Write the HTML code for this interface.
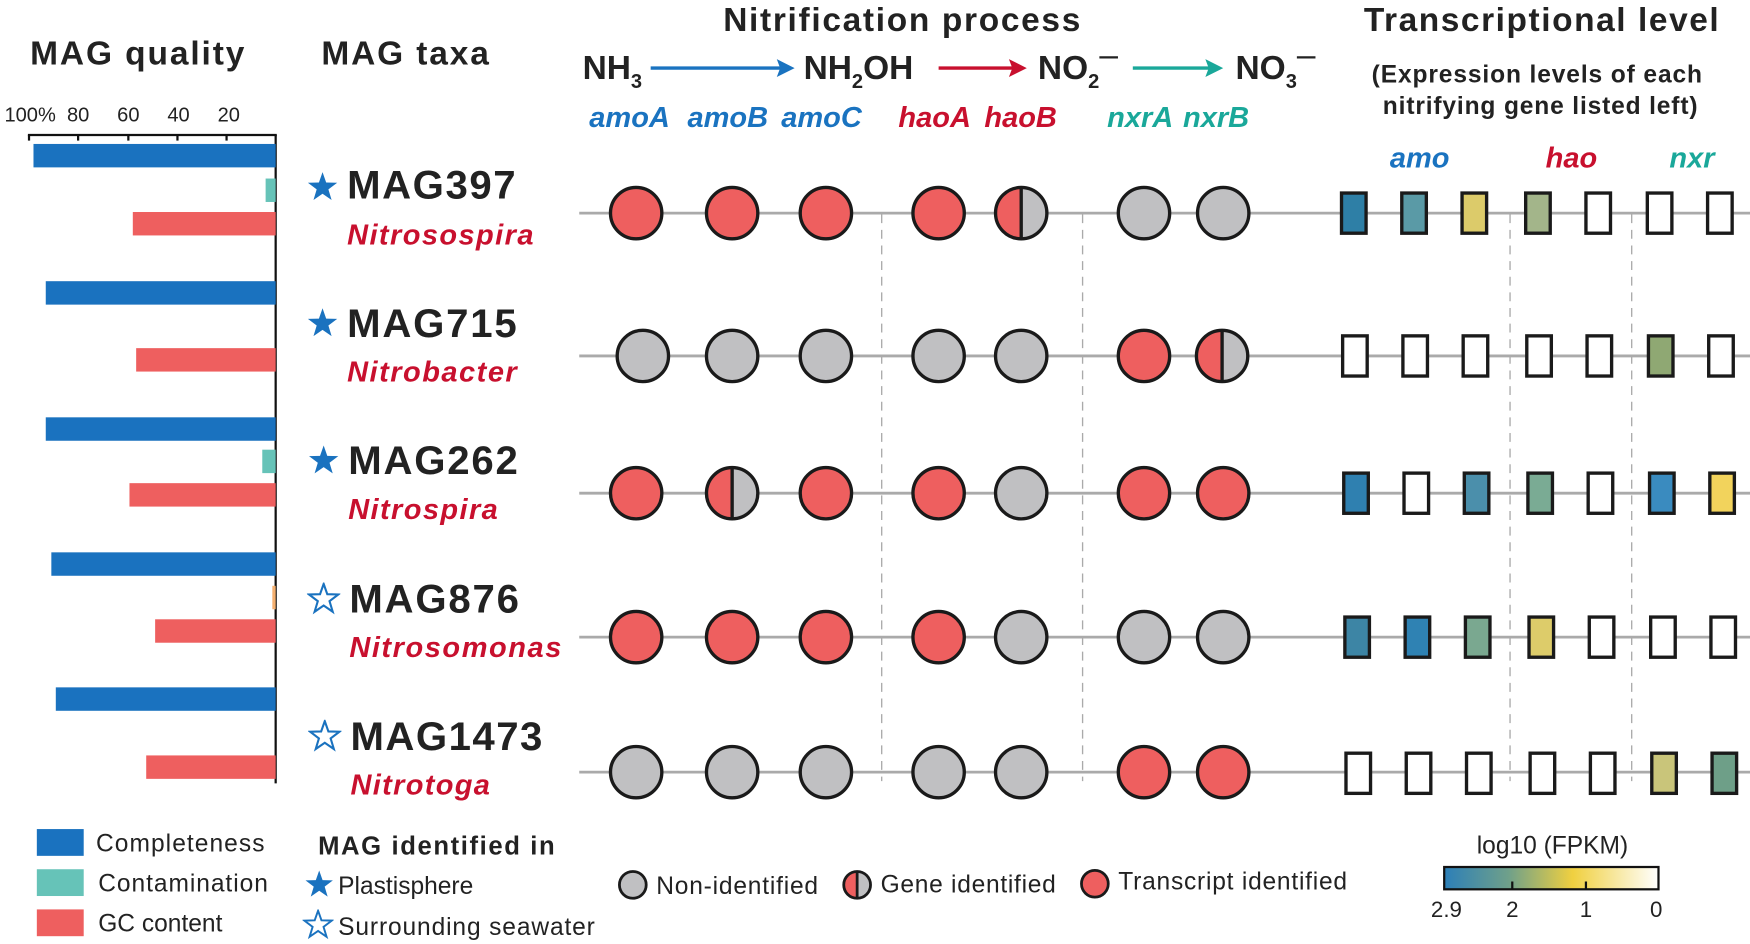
<!DOCTYPE html>
<html><head><meta charset="utf-8"><style>html,body{margin:0;padding:0;background:#fff}svg{display:block}text{font-family:"Liberation Sans",sans-serif}</style></head><body>
<svg width="1750" height="944" viewBox="0 0 1568 846" preserveAspectRatio="none" xmlns="http://www.w3.org/2000/svg">
<defs>
<linearGradient id="cb" x1="0" x2="1"><stop offset="0" stop-color="#2c7fb8"/><stop offset="0.3" stop-color="#6fa08a"/><stop offset="0.6" stop-color="#f0d040"/><stop offset="1" stop-color="#ffffff"/></linearGradient>
<symbol id="star" viewBox="-12 -12 24 24"><path d="M0,-11 L2.6,-3.6 10.5,-3.4 4.2,1.4 6.5,9 0,4.5 -6.5,9 -4.2,1.4 -10.5,-3.4 -2.6,-3.6Z"/></symbol>
</defs>
<g font-weight="bold" fill="#222">
<text x="123" y="58" font-size="30" text-anchor="middle" textLength="192">MAG quality</text>
<text x="363" y="58" font-size="30" text-anchor="middle" textLength="150">MAG taxa</text>
<text x="808" y="28" font-size="30" text-anchor="middle" textLength="320">Nitrification process</text>
<text x="1381" y="28" font-size="30" text-anchor="middle" textLength="318">Transcriptional level</text>
<text x="1377" y="74" font-size="22" text-anchor="middle" textLength="296">(Expression levels of each</text>
<text x="1380" y="102" font-size="22" text-anchor="middle" textLength="282">nitrifying gene listed left)</text>
<text x="522" y="71" font-size="30">NH<tspan font-size="18" dy="8">3</tspan></text>
<text x="720" y="71" font-size="30">NH<tspan font-size="18" dy="8">2</tspan><tspan dy="-8">OH</tspan></text>
<text x="930" y="71" font-size="30">NO<tspan font-size="18" dy="8">2</tspan><tspan dy="-20" font-weight="normal">–</tspan></text>
<text x="1107" y="71" font-size="30">NO<tspan font-size="18" dy="8">3</tspan><tspan dy="-20" font-weight="normal">–</tspan></text>
</g>
<g stroke-width="3">
<line x1="583" y1="61" x2="700" y2="61" stroke="#1a73c0"/><path d="M712,61 L696,53 L699,61 L696,69Z" fill="#1a73c0"/>
<line x1="841" y1="61" x2="908" y2="61" stroke="#c8102e"/><path d="M920,61 L904,53 L907,61 L904,69Z" fill="#c8102e"/>
<line x1="1015" y1="61" x2="1084" y2="61" stroke="#1aa89a"/><path d="M1096,61 L1080,53 L1083,61 L1080,69Z" fill="#1aa89a"/>
</g>
<g font-size="26" font-weight="bold" font-style="italic">
<text x="528" y="114" fill="#1a73c0">amoA</text><text x="616" y="114" fill="#1a73c0">amoB</text><text x="700" y="114" fill="#1a73c0">amoC</text>
<text x="805" y="114" fill="#c8102e">haoA</text><text x="882" y="114" fill="#c8102e">haoB</text>
<text x="992" y="114" fill="#1aa89a">nxrA</text><text x="1060" y="114" fill="#1aa89a">nxrB</text>
<text x="1272" y="150" fill="#1a73c0" text-anchor="middle">amo</text>
<text x="1408" y="150" fill="#c8102e" text-anchor="middle">hao</text>
<text x="1516" y="150" fill="#1aa89a" text-anchor="middle">nxr</text>
</g>
<g font-size="18" fill="#222">
<text x="27" y="109" text-anchor="middle">100%</text><text x="70" y="109" text-anchor="middle">80</text><text x="115" y="109" text-anchor="middle">60</text><text x="160" y="109" text-anchor="middle">40</text><text x="205" y="109" text-anchor="middle">20</text>
</g>
<g stroke="#111" stroke-width="2"><line x1="25" y1="121" x2="248" y2="121"/><line x1="247" y1="121" x2="247" y2="702"/>
<line x1="70" y1="121" x2="70" y2="126"/><line x1="115" y1="121" x2="115" y2="126"/><line x1="159" y1="121" x2="159" y2="126"/><line x1="203" y1="121" x2="203" y2="126"/><line x1="26" y1="121" x2="26" y2="126"/></g>
<g>
<rect x="30" y="129" width="217" height="21" fill="#1a72bf"/><rect x="238" y="160" width="9" height="21" fill="#66c3b8"/><rect x="119" y="190" width="128" height="21" fill="#ee5f5f"/>
<rect x="41" y="252" width="206" height="21" fill="#1a72bf"/><rect x="122" y="312" width="125" height="21" fill="#ee5f5f"/>
<rect x="41" y="374" width="206" height="21" fill="#1a72bf"/><rect x="235" y="403" width="12" height="21" fill="#66c3b8"/><rect x="116" y="433" width="131" height="21" fill="#ee5f5f"/>
<rect x="46" y="495" width="201" height="21" fill="#1a72bf"/><rect x="244" y="525" width="3" height="21" fill="#f5b070"/><rect x="139" y="555" width="108" height="21" fill="#ee5f5f"/>
<rect x="50" y="616" width="197" height="21" fill="#1a72bf"/><rect x="131" y="677" width="116" height="21" fill="#ee5f5f"/>
</g>
<g font-weight="bold">
<use href="#star" x="274" y="153" width="30" height="30" fill="#1a72bf"/>
<text x="311" y="178" font-size="36" fill="#222" textLength="151">MAG397</text><text x="311" y="219" font-size="26" font-style="italic" fill="#c8102e" textLength="167">Nitrosospira</text>
<use href="#star" x="274" y="275" width="30" height="30" fill="#1a72bf"/>
<text x="311" y="302" font-size="36" fill="#222" textLength="152">MAG715</text><text x="311" y="342" font-size="26" font-style="italic" fill="#c8102e" textLength="152">Nitrobacter</text>
<use href="#star" x="275" y="398" width="30" height="30" fill="#1a72bf"/>
<text x="312" y="425" font-size="36" fill="#222" textLength="152">MAG262</text><text x="312" y="465" font-size="26" font-style="italic" fill="#c8102e" textLength="134">Nitrospira</text>
<use href="#star" x="275" y="522" width="30" height="30" fill="#fff" stroke="#1a72bf" stroke-width="1.5"/>
<text x="313" y="549" font-size="36" fill="#222" textLength="152">MAG876</text><text x="313" y="589" font-size="26" font-style="italic" fill="#c8102e" textLength="190">Nitrosomonas</text>
<use href="#star" x="276" y="645" width="30" height="30" fill="#fff" stroke="#1a72bf" stroke-width="1.5"/>
<text x="314" y="672" font-size="36" fill="#222" textLength="172">MAG1473</text><text x="314" y="712" font-size="26" font-style="italic" fill="#c8102e" textLength="125">Nitrotoga</text>
</g>
<g stroke="#aaa" stroke-width="1.2" stroke-dasharray="8,6">
<line x1="790" y1="192" x2="790" y2="700"/><line x1="970" y1="192" x2="970" y2="700"/><line x1="1353" y1="192" x2="1353" y2="700"/><line x1="1462" y1="192" x2="1462" y2="700"/>
</g>
<g stroke="#aaa" stroke-width="2.5">
<line x1="519" y1="191" x2="1568" y2="191"/><line x1="519" y1="319" x2="1568" y2="319"/><line x1="519" y1="442" x2="1568" y2="442"/><line x1="519" y1="571" x2="1568" y2="571"/><line x1="519" y1="692" x2="1568" y2="692"/>
</g>
<g stroke="#1a1a1a" stroke-width="3">
<circle cx="570" cy="191" r="23" fill="#ee5f5f"/><circle cx="656" cy="191" r="23" fill="#ee5f5f"/><circle cx="740" cy="191" r="23" fill="#ee5f5f"/><circle cx="841" cy="191" r="23" fill="#ee5f5f"/>
<path d="M915,168 A23,23 0 0 0 915,214Z" fill="#ee5f5f" stroke="none"/><path d="M915,168 A23,23 0 0 1 915,214Z" fill="#c0c0c2" stroke="none"/><circle cx="915" cy="191" r="23" fill="none"/><line x1="915" y1="168" x2="915" y2="214"/>
<circle cx="1025" cy="191" r="23" fill="#c0c0c2"/><circle cx="1096" cy="191" r="23" fill="#c0c0c2"/>
<circle cx="576" cy="319" r="23" fill="#c0c0c2"/><circle cx="656" cy="319" r="23" fill="#c0c0c2"/><circle cx="740" cy="319" r="23" fill="#c0c0c2"/><circle cx="841" cy="319" r="23" fill="#c0c0c2"/><circle cx="915" cy="319" r="23" fill="#c0c0c2"/>
<circle cx="1025" cy="319" r="23" fill="#ee5f5f"/>
<path d="M1095,296 A23,23 0 0 0 1095,342Z" fill="#ee5f5f" stroke="none"/><path d="M1095,296 A23,23 0 0 1 1095,342Z" fill="#c0c0c2" stroke="none"/><circle cx="1095" cy="319" r="23" fill="none"/><line x1="1095" y1="296" x2="1095" y2="342"/>
<circle cx="570" cy="442" r="23" fill="#ee5f5f"/>
<path d="M656,419 A23,23 0 0 0 656,465Z" fill="#ee5f5f" stroke="none"/><path d="M656,419 A23,23 0 0 1 656,465Z" fill="#c0c0c2" stroke="none"/><circle cx="656" cy="442" r="23" fill="none"/><line x1="656" y1="419" x2="656" y2="465"/>
<circle cx="740" cy="442" r="23" fill="#ee5f5f"/><circle cx="841" cy="442" r="23" fill="#ee5f5f"/><circle cx="915" cy="442" r="23" fill="#c0c0c2"/><circle cx="1025" cy="442" r="23" fill="#ee5f5f"/><circle cx="1096" cy="442" r="23" fill="#ee5f5f"/>
<circle cx="570" cy="571" r="23" fill="#ee5f5f"/><circle cx="656" cy="571" r="23" fill="#ee5f5f"/><circle cx="740" cy="571" r="23" fill="#ee5f5f"/><circle cx="841" cy="571" r="23" fill="#ee5f5f"/><circle cx="915" cy="571" r="23" fill="#c0c0c2"/><circle cx="1025" cy="571" r="23" fill="#c0c0c2"/><circle cx="1096" cy="571" r="23" fill="#c0c0c2"/>
<circle cx="570" cy="692" r="23" fill="#c0c0c2"/><circle cx="656" cy="692" r="23" fill="#c0c0c2"/><circle cx="740" cy="692" r="23" fill="#c0c0c2"/><circle cx="841" cy="692" r="23" fill="#c0c0c2"/><circle cx="915" cy="692" r="23" fill="#c0c0c2"/><circle cx="1025" cy="692" r="23" fill="#ee5f5f"/><circle cx="1096" cy="692" r="23" fill="#ee5f5f"/>
</g>
<g stroke="#1a1a1a" stroke-width="3">
<rect x="1202" y="173" width="22" height="36" fill="#2e7fa6"/><rect x="1256" y="173" width="22" height="36" fill="#5a9aa6"/><rect x="1310" y="173" width="22" height="36" fill="#dccb6a"/><rect x="1367" y="173" width="22" height="36" fill="#a3b58a"/><rect x="1421" y="173" width="22" height="36" fill="#fff"/><rect x="1476" y="173" width="22" height="36" fill="#fff"/><rect x="1530" y="173" width="22" height="36" fill="#fff"/>
<rect x="1203" y="301" width="22" height="36" fill="#fff"/><rect x="1257" y="301" width="22" height="36" fill="#fff"/><rect x="1311" y="301" width="22" height="36" fill="#fff"/><rect x="1368" y="301" width="22" height="36" fill="#fff"/><rect x="1422" y="301" width="22" height="36" fill="#fff"/><rect x="1477" y="301" width="22" height="36" fill="#8fa873"/><rect x="1531" y="301" width="22" height="36" fill="#fff"/>
<rect x="1204" y="424" width="22" height="36" fill="#2f80b0"/><rect x="1258" y="424" width="22" height="36" fill="#fff"/><rect x="1312" y="424" width="22" height="36" fill="#4b8fab"/><rect x="1369" y="424" width="22" height="36" fill="#7aab94"/><rect x="1423" y="424" width="22" height="36" fill="#fff"/><rect x="1478" y="424" width="22" height="36" fill="#3a8bbf"/><rect x="1532" y="424" width="22" height="36" fill="#f2d35c"/>
<rect x="1205" y="553" width="22" height="36" fill="#3d85a5"/><rect x="1259" y="553" width="22" height="36" fill="#2f82b3"/><rect x="1313" y="553" width="22" height="36" fill="#7aa890"/><rect x="1370" y="553" width="22" height="36" fill="#ddcc6a"/><rect x="1424" y="553" width="22" height="36" fill="#fff"/><rect x="1479" y="553" width="22" height="36" fill="#fff"/><rect x="1533" y="553" width="22" height="36" fill="#fff"/>
<rect x="1206" y="675" width="22" height="36" fill="#fff"/><rect x="1260" y="675" width="22" height="36" fill="#fff"/><rect x="1314" y="675" width="22" height="36" fill="#fff"/><rect x="1371" y="675" width="22" height="36" fill="#fff"/><rect x="1425" y="675" width="22" height="36" fill="#fff"/><rect x="1480" y="675" width="22" height="36" fill="#c9c57a"/><rect x="1534" y="675" width="22" height="36" fill="#6e9f88"/>
</g>
<rect x="33" y="743" width="42" height="24" fill="#1a72bf"/><rect x="33" y="779" width="42" height="24" fill="#66c3b8"/><rect x="33" y="815" width="42" height="24" fill="#ee5f5f"/>
<g font-size="22" fill="#222">
<text x="86" y="763" textLength="151">Completeness</text><text x="88" y="799" textLength="152">Contamination</text><text x="88" y="835">GC content</text>
<text x="285" y="766" font-weight="bold" font-size="23" textLength="212">MAG identified in</text>
<text x="303" y="801">Plastisphere</text><text x="303" y="838" textLength="230">Surrounding seawater</text>
<text x="588" y="801" textLength="145">Non-identified</text><text x="789" y="800" textLength="157">Gene identified</text><text x="1002" y="797" textLength="205">Transcript identified</text>
<text x="1391" y="765" text-anchor="middle">log10 (FPKM)</text>
</g>
<use href="#star" x="272" y="779" width="28" height="28" fill="#1a72bf"/>
<use href="#star" x="271" y="815" width="28" height="28" fill="#fff" stroke="#1a72bf" stroke-width="1.5"/>
<g stroke="#1a1a1a" stroke-width="2.5">
<circle cx="567" cy="793" r="12" fill="#c0c0c2"/>
<path d="M768,781 A12,12 0 0 0 768,805Z" fill="#ee5f5f" stroke="none"/><path d="M768,781 A12,12 0 0 1 768,805Z" fill="#c0c0c2" stroke="none"/><circle cx="768" cy="793" r="12" fill="none"/><line x1="768" y1="781" x2="768" y2="805"/>
<circle cx="981" cy="792" r="12" fill="#ee5f5f"/>
</g>
<rect x="1294" y="777" width="192" height="20" fill="url(#cb)" stroke="#111" stroke-width="2"/>
<g stroke="#111" stroke-width="2"><line x1="1355" y1="797" x2="1355" y2="790"/><line x1="1421" y1="797" x2="1421" y2="790"/></g>
<g font-size="20" fill="#222" text-anchor="middle"><text x="1296" y="822">2.9</text><text x="1355" y="822">2</text><text x="1421" y="822">1</text><text x="1484" y="822">0</text></g>
</svg>
</body></html>
